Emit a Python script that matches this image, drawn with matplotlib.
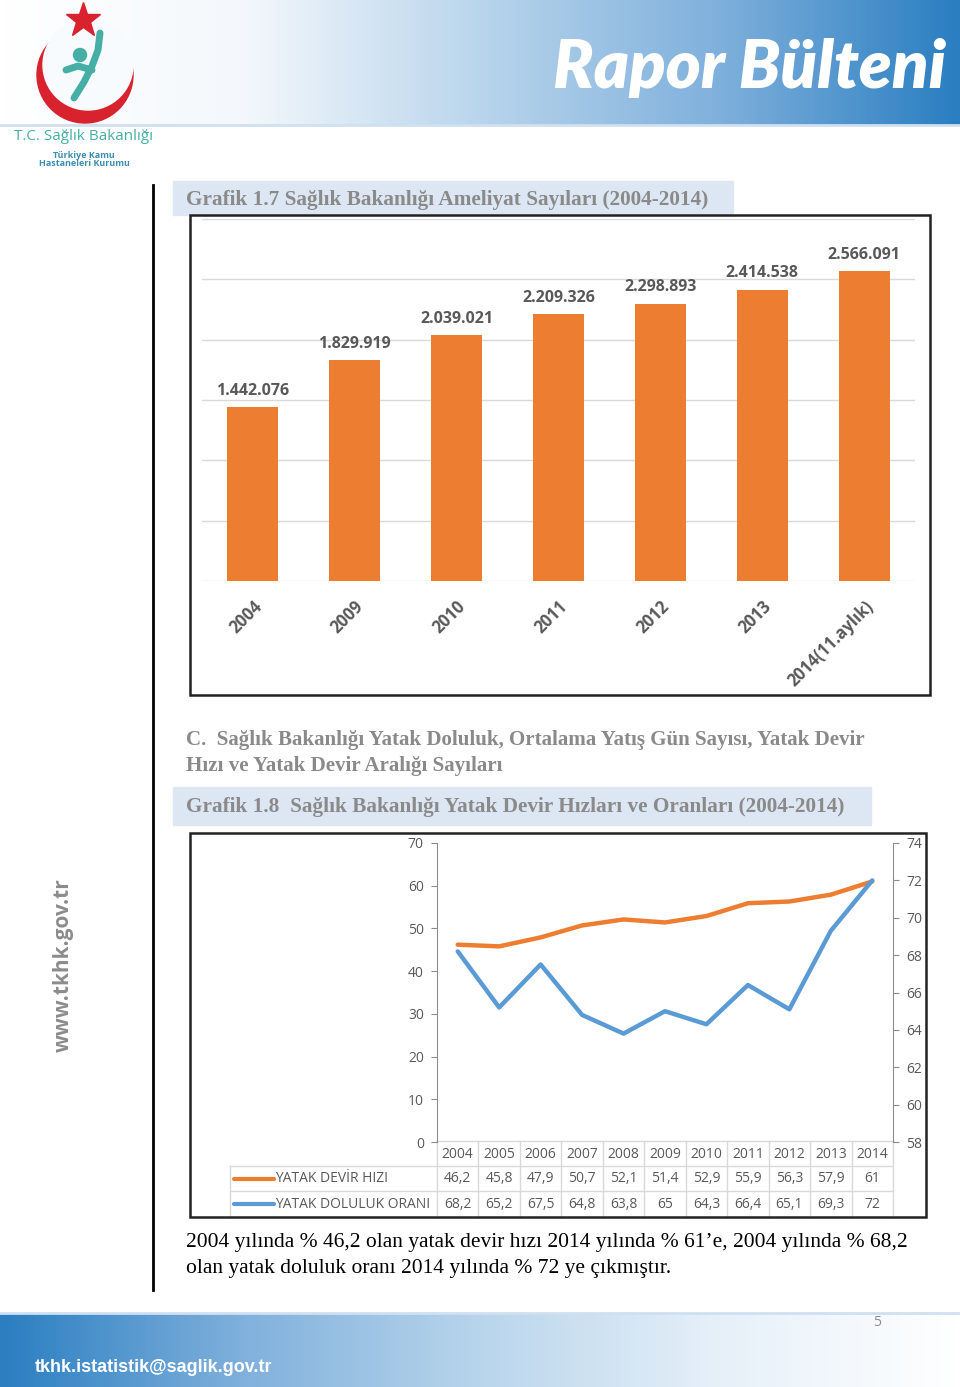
import numpy as np
import matplotlib
matplotlib.use('Agg')
import matplotlib.pyplot as plt
import matplotlib.transforms as mtransforms
from matplotlib.colors import LinearSegmentedColormap
from matplotlib.patches import Rectangle, Circle

# Grafik 1.7 data
bar_years = ['2004', '2009', '2010', '2011', '2012', '2013', '2014(11.aylık)']
ameliyat = [1442076, 1829919, 2039021, 2209326, 2298893, 2414538, 2566091]

# Grafik 1.8 data
line_years = ['2004', '2005', '2006', '2007', '2008', '2009', '2010', '2011', '2012', '2013', '2014']
devir_hizi = [46.2, 45.8, 47.9, 50.7, 52.1, 51.4, 52.9, 55.9, 56.3, 57.9, 61]
doluluk = [68.2, 65.2, 67.5, 64.8, 63.8, 65, 64.3, 66.4, 65.1, 69.3, 72]
series_names = ['YATAK DEVİR HIZI', 'YATAK DOLULUK ORANI']

W, H = 960, 1387
ORANGE = '#ed7d31'
BLUE = '#5b9bd5'
GRAY = '#595959'
TITLE_GRAY = '#8a8a8a'
SANS = ['Open Sans', 'DejaVu Sans']
SERIF = ['Liberation Serif', 'DejaVu Serif']

fig = plt.figure(figsize=(W / 100, H / 100), dpi=100)

# page canvas in pixel coordinates (y down)
page = fig.add_axes([0, 0, 1, 1], zorder=0)
page.axis('off')


def px_axes(left, top, right, bottom, z=2):
    return fig.add_axes([left / W, 1 - bottom / H, (right - left) / W, (bottom - top) / H], zorder=z)


# header and footer gradients
head_cmap = LinearSegmentedColormap.from_list('h', ['#ffffff', '#f4f8fc', '#b9d5ec', '#7fb0dc', '#2a7ec1'])
grad = np.linspace(0, 1, 256).reshape(1, -1)
page.imshow(grad, cmap=head_cmap, extent=[0, W, 125, 0], aspect='auto', zorder=0)
page.plot([0, W], [125, 125], color='#cfe0f0', lw=2, zorder=1)
foot_cmap = LinearSegmentedColormap.from_list('f', ['#2a7ec1', '#7fb0dc', '#b9d5ec', '#e6f0f9', '#ffffff'])
page.imshow(grad, cmap=foot_cmap, extent=[0, W, H, 1313], aspect='auto', zorder=0)
page.plot([0, W], [1313, 1313], color='#cfe0f0', lw=2, zorder=1)
page.set_xlim(0, W)
page.set_ylim(H, 0)

page.text(946, 68, 'Rapor Bülteni', color='white', fontsize=48, fontweight='heavy',
          style='italic', family=['Lato', 'DejaVu Sans'], ha='right', va='center', zorder=3)

# logo
page.add_patch(Circle((85, 75), 48, color='#d8232f', zorder=2))
page.add_patch(Circle((88, 65), 45, color='#f8fbfd', zorder=2))
page.plot([83], [20], marker='*', markersize=26, color='#d8232f', zorder=3)
page.add_patch(Circle((80, 55), 6.5, color='#45aea5', zorder=3))
page.plot([100, 98, 92, 84, 74], [33, 50, 66, 82, 98], color='#45aea5', lw=5, solid_capstyle='round', zorder=3)
page.plot([66, 78, 92], [70, 66, 70], color='#45aea5', lw=5, solid_capstyle='round', zorder=3)
page.text(84, 137, 'T.C. Sağlık Bakanlığı', color='#45aea5', fontsize=11, family=SANS,
          ha='center', va='center')
page.text(84, 155, 'Türkiye Kamu', color='#3c8fb0', fontsize=6.5, fontweight='bold', family=SANS,
          ha='center', va='center')
page.text(84, 164, 'Hastaneleri Kurumu', color='#3c8fb0', fontsize=6.5, fontweight='bold', family=SANS,
          ha='center', va='center')

# left rule and website
page.plot([153, 153], [185, 1290], color='black', lw=2)
page.text(63, 965, 'www.tkhk.gov.tr', rotation=90, color='#8c8c8c', fontsize=15, fontweight='bold',
          family=SANS, ha='center', va='center')

# section titles
page.add_patch(Rectangle((173, 181), 560, 34, color='#dce7f3', zorder=1))
page.text(186, 200, 'Grafik 1.7 Sağlık Bakanlığı Ameliyat Sayıları (2004-2014)', color=TITLE_GRAY,
          fontsize=15.3, fontweight='bold', family=SERIF, va='center', zorder=2)
page.text(186, 740, 'C.  Sağlık Bakanlığı Yatak Doluluk, Ortalama Yatış Gün Sayısı, Yatak Devir',
          color=TITLE_GRAY, fontsize=15.1, fontweight='bold', family=SERIF, va='center')
page.text(186, 766, 'Hızı ve Yatak Devir Aralığı Sayıları', color=TITLE_GRAY, fontsize=15.1,
          fontweight='bold', family=SERIF, va='center')
page.add_patch(Rectangle((173, 787), 698, 38, color='#dce7f3', zorder=1))
page.text(186, 807, 'Grafik 1.8  Sağlık Bakanlığı Yatak Devir Hızları ve Oranları (2004-2014)',
          color=TITLE_GRAY, fontsize=15.3, fontweight='bold', family=SERIF, va='center', zorder=2)

# chart frames
page.add_patch(Rectangle((190, 215), 740, 480, fill=False, ec='#222222', lw=1.8, zorder=3))
page.add_patch(Rectangle((190, 833), 736, 384, fill=False, ec='#222222', lw=1.8, zorder=3))

page.text(186, 1242, '2004 yılında % 46,2 olan yatak devir hızı 2014 yılında % 61’e, 2004 yılında % 68,2',
          color='black', fontsize=15.5, family=SERIF, va='center')
page.text(186, 1268, 'olan yatak doluluk oranı 2014 yılında % 72 ye çıkmıştır.',
          color='black', fontsize=15.5, family=SERIF, va='center')

page.text(877, 1323, '5', color='#8c8c8c', fontsize=10, family=SANS, ha='center', va='center')
page.text(35, 1367, 'tkhk.istatistik@saglik.gov.tr', color='white', fontsize=13, fontweight='bold',
          family=['Liberation Sans', 'DejaVu Sans'], va='center')

# ---- Grafik 1.7 bar chart
ax1 = px_axes(202, 219, 915, 581)
ax1.set_facecolor('none')
x1 = np.arange(len(bar_years))
ax1.bar(x1, ameliyat, width=0.5, color=ORANGE, zorder=3)
ax1.set_xlim(-0.5, len(bar_years) - 0.5)
ax1.set_ylim(0, 3000000)
ax1.set_yticks(np.arange(0, 3000001, 500000))
ax1.yaxis.grid(True, color='#d9d9d9', lw=1)
ax1.tick_params(axis='y', length=0, labelleft=False)
ax1.tick_params(axis='x', length=0, pad=12)
for s in ax1.spines.values():
    s.set_visible(False)
ax1.set_xticks(x1)
ax1.set_xticklabels(bar_years, rotation=45, ha='right', rotation_mode='anchor', color=GRAY,
                    fontsize=12, fontweight='bold', family=SANS)
for xi, v in zip(x1, ameliyat):
    ax1.annotate(f'{v:,}'.replace(',', '.'), (xi, v), xytext=(0, 6), textcoords='offset points',
                 ha='center', va='bottom', color=GRAY, fontsize=11.5, fontweight='bold', family=SANS)

# ---- Grafik 1.8 line chart
ax2 = px_axes(437, 843, 893, 1142)
ax2.set_facecolor('none')
x2 = np.arange(len(line_years))
ax2.plot(x2, devir_hizi, color=ORANGE, lw=3.2, solid_capstyle='round', zorder=3)
ax2.set_xlim(-0.5, len(line_years) - 0.5)
ax2.set_ylim(0, 70)
ax2.set_yticks(np.arange(0, 71, 10))
ax2r = ax2.twinx()
ax2r.plot(x2, doluluk, color=BLUE, lw=3.2, solid_capstyle='round', zorder=3)
ax2r.set_ylim(58, 74)
ax2r.set_yticks(np.arange(58, 75, 2))
for a in (ax2, ax2r):
    for s in a.spines.values():
        s.set_visible(False)
    a.set_xticks([])
ax2.spines['left'].set_visible(True)
ax2.spines['left'].set_color('#8c8c8c')
ax2r.spines['right'].set_visible(True)
ax2r.spines['right'].set_color('#8c8c8c')
ax2.tick_params(axis='y', length=4.5, color='#8c8c8c', labelcolor=GRAY, labelsize=10, pad=5)
ax2r.tick_params(axis='y', length=4.5, color='#8c8c8c', labelcolor=GRAY, labelsize=10, pad=5)
for lab in ax2.get_yticklabels() + ax2r.get_yticklabels():
    lab.set_family(SANS)

# data table under the line chart
trans = mtransforms.blended_transform_factory(ax2.transData, page.transData)
grid_c = '#d9d9d9'
rows_y = [1141, 1166, 1191, 1216]
n = len(line_years)
page.plot([-0.5, n - 0.5], [1141, 1141], color=grid_c, lw=1, transform=trans)
for yy in rows_y[1:3]:
    page.plot([230, 437], [yy, yy], color=grid_c, lw=1)
    page.plot([-0.5, n - 0.5], [yy, yy], color=grid_c, lw=1, transform=trans)
page.plot([230, 230], [1166, 1216], color=grid_c, lw=1)
for b in np.arange(-0.5, n, 1.0):
    page.plot([b, b], [1141, 1216], color=grid_c, lw=1, transform=trans)
for i, yr in enumerate(line_years):
    page.text(i, 1154, yr, transform=trans, ha='center', va='center', color=GRAY, fontsize=10, family=SANS)
    page.text(i, 1179, f'{devir_hizi[i]:g}'.replace('.', ','), transform=trans, ha='center',
              va='center', color=GRAY, fontsize=10, family=SANS)
    page.text(i, 1204, f'{doluluk[i]:g}'.replace('.', ','), transform=trans, ha='center',
              va='center', color=GRAY, fontsize=10, family=SANS)
for name, col, yy in zip(series_names, [ORANGE, BLUE], [1179, 1204]):
    page.plot([234, 274], [yy, yy], color=col, lw=3, solid_capstyle='round')
    page.text(275, yy, name, ha='left', va='center', color=GRAY, fontsize=10, family=SANS)

fig.savefig('out.png', dpi=100)
